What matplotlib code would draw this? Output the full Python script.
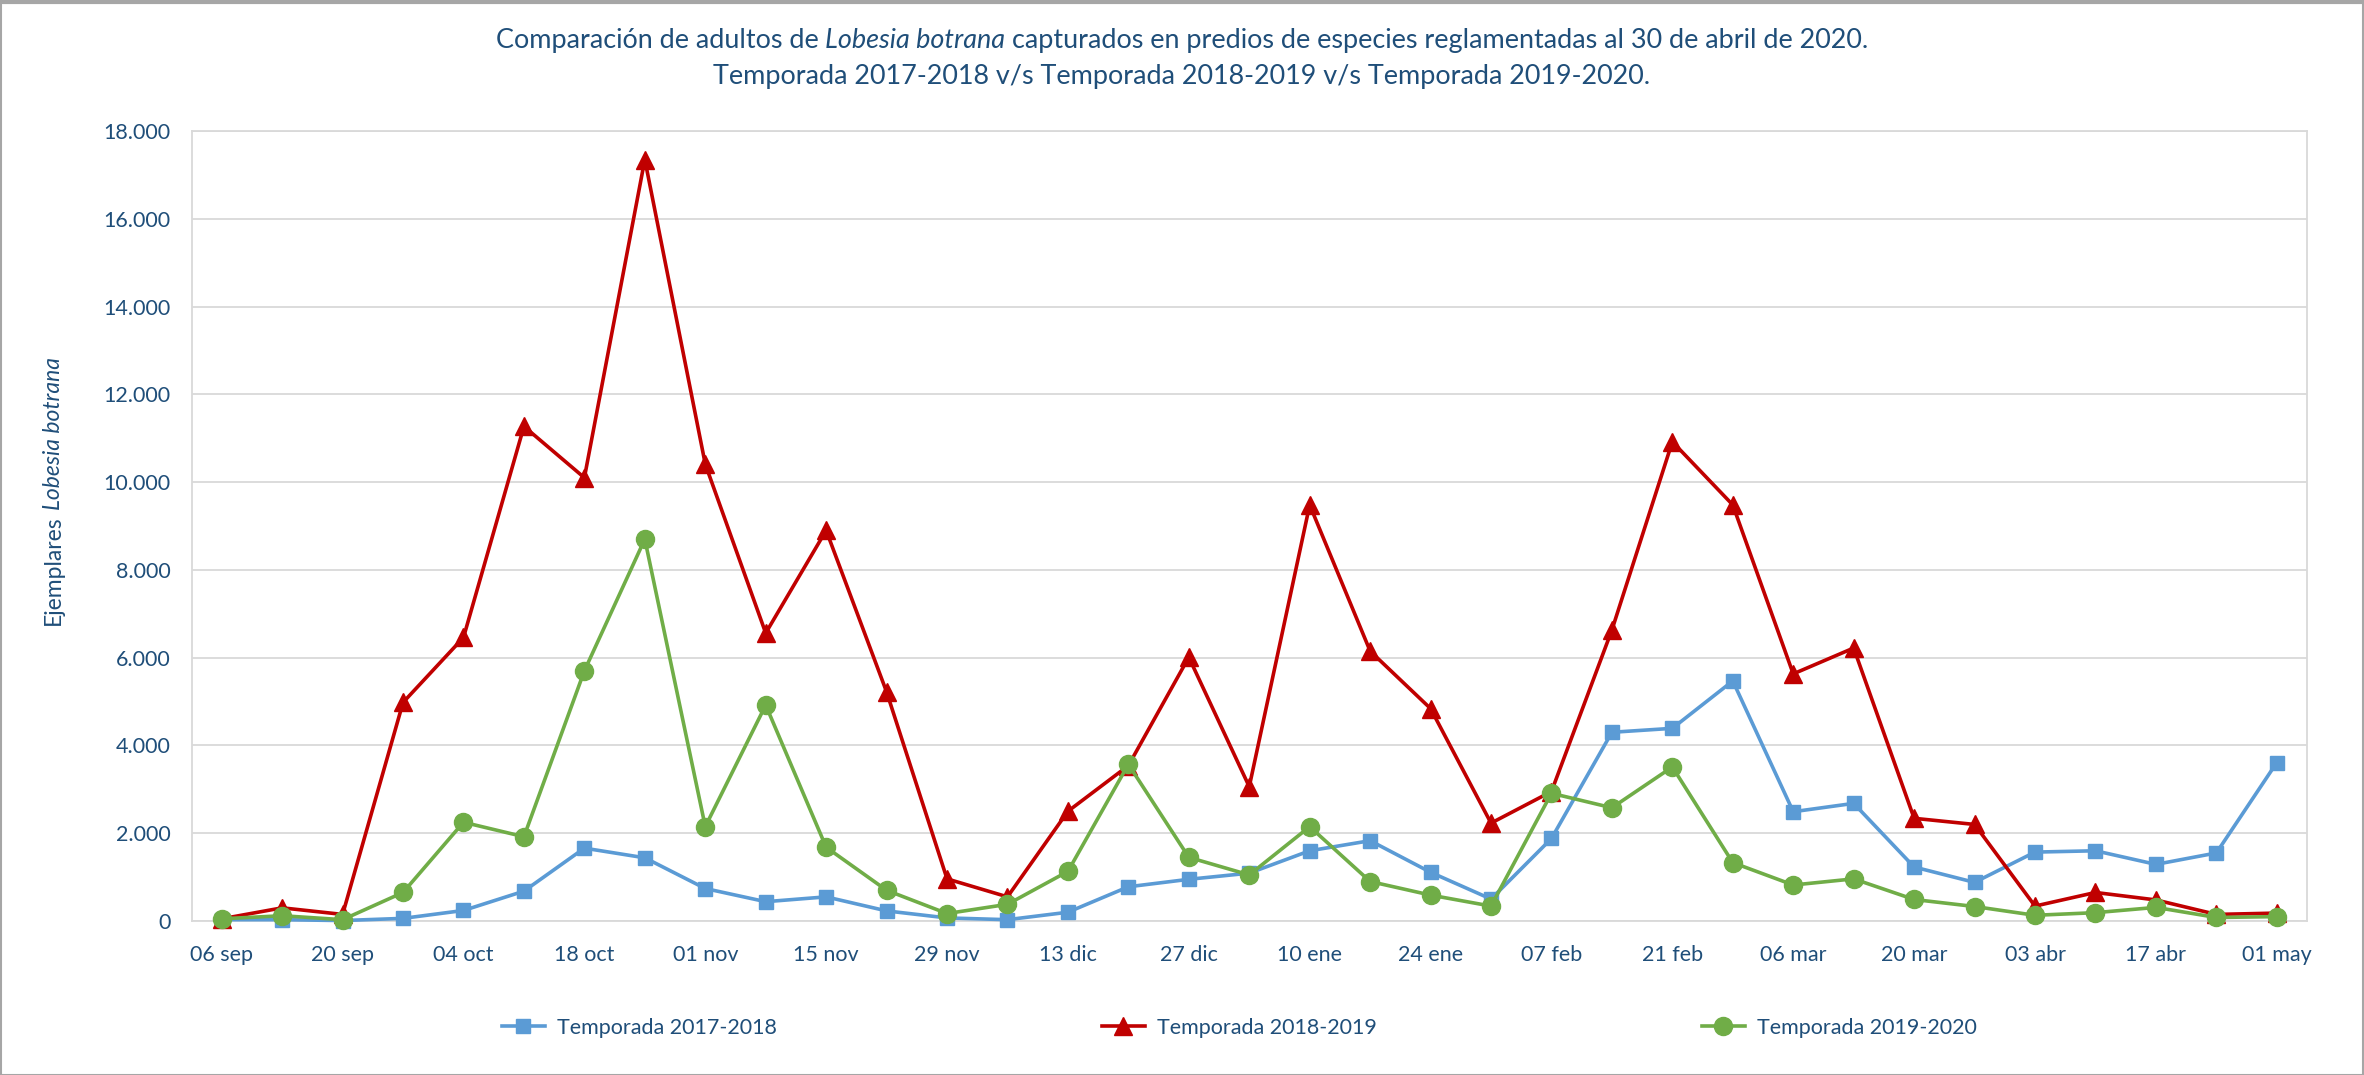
import matplotlib
matplotlib.use("Agg")
import matplotlib.pyplot as plt
from matplotlib.ticker import FuncFormatter
from matplotlib.lines import Line2D
from matplotlib.transforms import IdentityTransform

# ---------------- data ----------------
fechas = ["06 sep", "13 sep", "20 sep", "27 sep", "04 oct", "11 oct", "18 oct", "25 oct",
          "01 nov", "08 nov", "15 nov", "22 nov", "29 nov", "06 dic", "13 dic", "20 dic",
          "27 dic", "03 ene", "10 ene", "17 ene", "24 ene", "31 ene", "07 feb", "14 feb",
          "21 feb", "28 feb", "06 mar", "13 mar", "20 mar", "27 mar", "03 abr", "10 abr",
          "17 abr", "24 abr", "01 may"]

t_2017_2018 = [30, 30, 10, 60, 240, 680, 1660, 1440, 740, 440, 550, 230, 70, 30, 200, 780,
               950, 1090, 1600, 1830, 1110, 500, 1880, 4300, 4390, 5470, 2490, 2680, 1230, 880,
               1570, 1600, 1290, 1550, 3610]
t_2018_2019 = [50, 300, 150, 4980, 6460, 11270, 10100, 17350, 10410, 6560, 8900, 5220, 960,
               550, 2500, 3540, 6010, 3060, 9480, 6150, 4840, 2230, 2950, 6630, 10920, 9480,
               5630, 6220, 2340, 2200, 340, 650, 480, 150, 180]
t_2019_2020 = [50, 120, 30, 650, 2250, 1920, 5700, 8700, 2150, 4920, 1680, 700, 170, 380,
               1130, 3570, 1450, 1050, 2150, 900, 590, 340, 2910, 2580, 3510, 1330, 820, 960,
               490, 330, 130, 190, 310, 80, 100]

series_names = ["Temporada 2017-2018", "Temporada 2018-2019", "Temporada 2019-2020"]

# ---------------- style ----------------
W, H = 2364, 1075
DPI = 100
FONT = "Lato"
TXT = "#1F4E79"
BLUE, RED, GREEN = "#5B9BD5", "#C00000", "#70AD47"
GRID = "#D9D9D9"
TICK_FS = 15.5

plt.rcParams["font.family"] = [FONT, "DejaVu Sans"]

fig = plt.figure(figsize=(W / DPI, H / DPI), dpi=DPI, facecolor="white")
L, R, T, B = 191.5, 2307, 131, 921
ax = fig.add_axes([L / W, 1 - B / H, (R - L) / W, (B - T) / H])

x = list(range(len(fechas)))
h1, = ax.plot(x, t_2017_2018, color=BLUE, lw=2.6, marker="s", ms=10, zorder=3, clip_on=False)
h2, = ax.plot(x, t_2018_2019, color=RED, lw=2.6, marker="^", ms=13, zorder=4, clip_on=False)
h3, = ax.plot(x, t_2019_2020, color=GREEN, lw=2.6, marker="o", ms=13, zorder=5, clip_on=False)

ax.set_xlim(-0.5, len(fechas) - 0.5)
ax.set_ylim(0, 18000)
ax.set_yticks(range(0, 18001, 2000))
ax.yaxis.set_major_formatter(FuncFormatter(lambda v, p: f"{int(v):,}".replace(",", ".")))
ax.set_xticks(x[::2])
ax.set_xticklabels(fechas[::2])
ax.tick_params(axis="both", length=0, labelsize=TICK_FS, labelcolor=TXT)
ax.tick_params(axis="x", pad=17)
ax.tick_params(axis="y", pad=15)
ax.grid(axis="y", color=GRID, lw=1.3, zorder=0)
ax.set_axisbelow(True)
for s in ax.spines.values():
    s.set_color(GRID)
    s.set_linewidth(1.3)

renderer = fig.canvas.get_renderer()


def measure(s, size, style="normal"):
    t = fig.text(0, 0, s, fontsize=size, style=style)
    w = t.get_window_extent(renderer).width
    t.remove()
    return w


def rich_line(pieces, cx, cy, size, color, rotation=0):
    sp = measure("a a", size) - measure("aa", size)
    widths = [measure(s, size, st) for s, st in pieces]
    total = sum(widths) + sp * (len(pieces) - 1)
    pos = -total / 2
    for (s, st), w in zip(pieces, widths):
        if rotation == 0:
            fig.text(cx + pos, cy, s, fontsize=size, style=st, color=color,
                     ha="left", va="baseline", transform=IdentityTransform())
        else:
            fig.text(cx, cy + pos, s, fontsize=size, style=st, color=color, rotation=90,
                     rotation_mode="anchor", ha="left", va="baseline",
                     transform=IdentityTransform())
        pos += w + sp
    return total


# title
title1 = [("Comparación de adultos de", "normal"), ("Lobesia botrana", "italic"),
          ("capturados en predios de especies reglamentadas al 30 de abril de 2020.", "normal")]
title2 = [("Temporada 2017-2018 v/s Temporada 2018-2019 v/s Temporada 2019-2020.", "normal")]
base = 18
sp0 = measure("a a", base) - measure("aa", base)
w1 = sum(measure(s, base, st) for s, st in title1) + 2 * sp0
tsize = base * 1372 / w1
rich_line(title1, W / 2, H - 48, tsize, TXT)
rich_line(title2, W / 2, H - 84, tsize, TXT)

# y label
ylab = [("Ejemplares", "normal"), ("Lobesia botrana", "italic")]
base = 14
sp0 = measure("a a", base) - measure("aa", base)
wy = sum(measure(s, base, st) for s, st in ylab) + sp0
ysize = base * 269 / wy
rich_line(ylab, 60, H - 491, ysize, TXT, rotation=90)

# legend
handles = [h1, h2, h3]
fs_px = TICK_FS * DPI / 72
txt_w = measure(series_names[0], TICK_FS)
hl, htp = 2.0, 0.55
entry_w = (hl + htp) * fs_px + txt_w
colsp = (600 - entry_w) / fs_px
leg = fig.legend(handles, series_names, loc="center left",
                 bbox_to_anchor=(491 / W, 1 - 1028 / H), ncol=3, frameon=False,
                 fontsize=TICK_FS, handlelength=hl, handletextpad=htp,
                 columnspacing=colsp, borderpad=0, numpoints=1)
for t in leg.get_texts():
    t.set_color(TXT)

# outer border
fig.add_artist(plt.Rectangle((0.5 / W, 0.5 / H), 1 - 1.5 / W, 1 - 1.5 / H,
                             transform=fig.transFigure, fill=False,
                             edgecolor="#A6A6A6", lw=1.5))
fig.add_artist(Line2D([0, 1], [1 - 2 / H, 1 - 2 / H], transform=fig.transFigure,
                      color="#A6A6A6", lw=3))

fig.savefig("out.png", dpi=DPI, facecolor="white")
